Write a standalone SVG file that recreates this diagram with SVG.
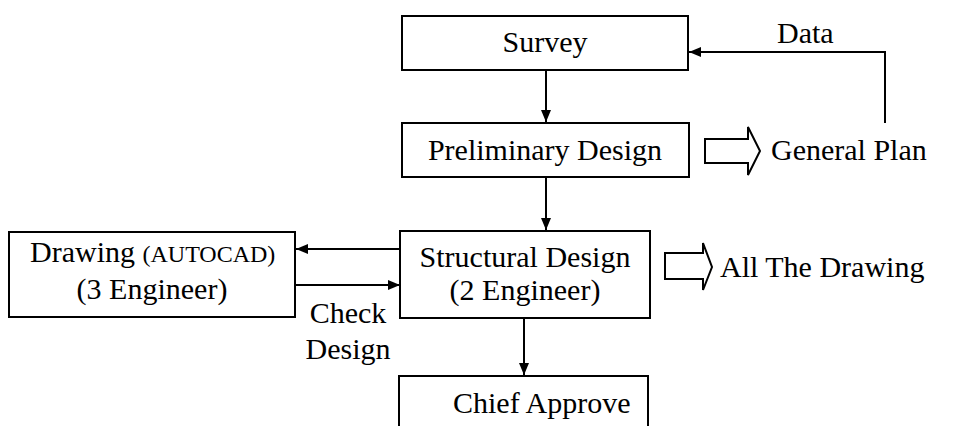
<svg xmlns="http://www.w3.org/2000/svg" width="977" height="426" viewBox="0 0 977 426">
<style>
.box{fill:#fff;stroke:#000;stroke-width:2}
.t{font-family:"Liberation Serif","Times New Roman",serif;font-size:30px;fill:#000}
.sm{font-size:24px}
.ln{fill:none;stroke:#000;stroke-width:2}
.hollow{fill:#fff;stroke:#000;stroke-width:2;stroke-linejoin:miter}
</style>
<defs>
<marker id="ah" viewBox="0 0 12 10" refX="12" refY="5" markerWidth="12" markerHeight="10" markerUnits="userSpaceOnUse" orient="auto">
<path d="M0,0 L12,5 L0,10 Z" fill="#000"/>
</marker>
</defs>
<rect width="977" height="426" fill="#fff"/>
<g id="connectors">
<line class="ln" x1="546" y1="70" x2="546" y2="122" marker-end="url(#ah)"/>
<line class="ln" x1="546" y1="177" x2="546" y2="230" marker-end="url(#ah)"/>
<line class="ln" x1="524" y1="302" x2="524" y2="375" marker-end="url(#ah)"/>
<line class="ln" x1="401" y1="249" x2="296" y2="249" marker-end="url(#ah)"/>
<line class="ln" x1="295" y1="285" x2="400" y2="285" marker-end="url(#ah)"/>
<polyline class="ln" points="885,123 885,52 689,52" marker-end="url(#ah)"/>
<text class="t" x="777" y="43">Data</text>
<text class="t" x="348" y="323" text-anchor="middle">Check</text>
<text class="t" x="348" y="359" text-anchor="middle">Design</text>
</g>
<g id="survey">
<rect class="box" x="402" y="16" width="286" height="54"/>
<text class="t" x="545" y="52" text-anchor="middle">Survey</text>
</g>
<g id="preliminary">
<rect class="box" x="402" y="123" width="287" height="54"/>
<text class="t" x="545" y="160" text-anchor="middle">Preliminary Design</text>
</g>
<g id="general-plan">
<polygon class="hollow" points="705,139 748,139 748,127 760,151 748,175 748,163 705,163"/>
<text class="t" x="771" y="160">General Plan</text>
</g>
<g id="structural">
<rect class="box" x="400" y="231" width="250" height="87"/>
<text class="t" x="525" y="267" text-anchor="middle">Structural Design</text>
<text class="t" x="525" y="300" text-anchor="middle">(2 Engineer)</text>
</g>
<g id="all-drawing">
<polygon class="hollow" points="665,253 703,253 703,243 712,267 703,290 703,279 665,279"/>
<text class="t" x="720" y="277">All The Drawing</text>
</g>
<g id="drawing">
<rect class="box" x="9" y="232" width="286" height="85"/>
<text class="t" x="30" y="262">Drawing <tspan class="sm">(AUTOCAD)</tspan></text>
<text class="t" x="152" y="299" text-anchor="middle">(3 Engineer)</text>
</g>
<g id="chief">
<rect class="box" x="399" y="376" width="249" height="70"/>
<text class="t" x="453" y="413">Chief Approve</text>
</g>
</svg>
